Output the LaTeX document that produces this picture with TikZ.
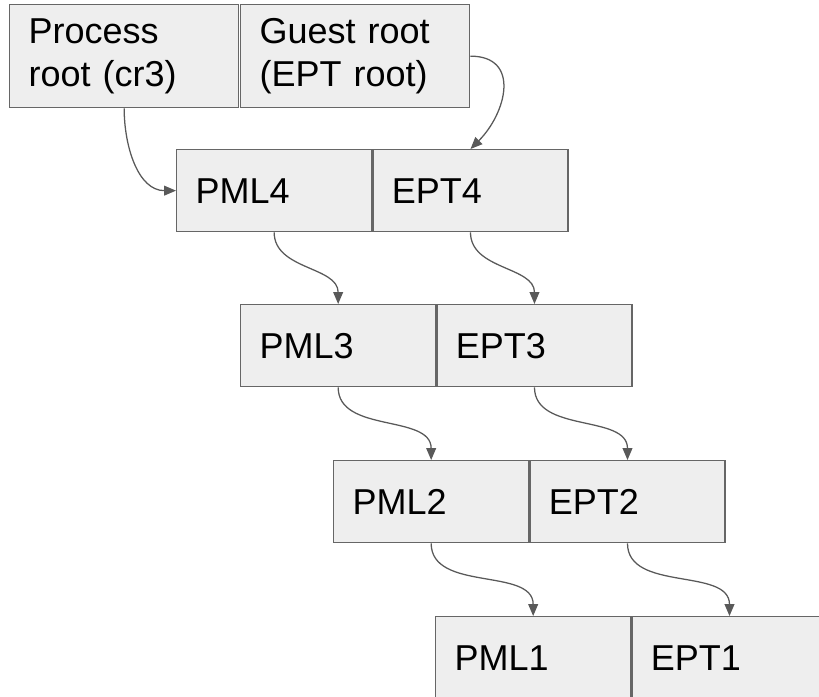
\documentclass[tikz,border=0pt]{standalone}
\usepackage{fontspec}
\setmainfont{Liberation Sans}
\usepackage{xcolor}
\usetikzlibrary{arrows.meta}
\definecolor{boxfill}{HTML}{EEEEEE}
\definecolor{boxline}{HTML}{666666}
\definecolor{ptrline}{HTML}{595959}
\tikzset{
	tbl/.style={draw=boxline, fill=boxfill, line width=0.9pt, anchor=north west,
		minimum height=2.05cm, text width=3.925cm, inner xsep=0.475cm, inner ysep=0pt,
		align=left, font=\fontsize{25.6}{31}\selectfont},
	rootbox/.style={tbl, minimum height=2.575cm, text width=4.775cm},
	ptr/.style={draw=ptrline, line width=0.9pt, -{Triangle[length=8.5pt,width=7pt]}}
}
\begin{document}
\begin{tikzpicture}[x=0.025cm,y=0.025cm]
		\clip (0,0) rectangle (819,-696);
		\node[rootbox] (proc) at (9,-4) {Process\\root (cr3)};
		\node[rootbox] (guest) at (240,-4) {Guest root\\(EPT root)};
		\node[tbl] (pml4) at (176,-149) {PML4};
		\node[tbl] (ept4) at (pml4.north east) {EPT4};
		\node[tbl] (pml3) at (240,-304) {PML3};
		\node[tbl] (ept3) at (pml3.north east) {EPT3};
		\node[tbl] (pml2) at (333,-460) {PML2};
		\node[tbl] (ept2) at (pml2.north east) {EPT2};
		\node[tbl] (pml1) at (435,-616) {PML1};
		\node[tbl] (ept1) at (pml1.north east) {EPT1};
		\draw[ptr] (proc.south) to[out=-90, in=180] (pml4.west);
		\draw[ptr] (guest.east) to[out=0, in=45, looseness=1.4] (ept4.north);
		\foreach \a/\b in {pml4/pml3, ept4/ept3, pml3/pml2, ept3/ept2, pml2/pml1, ept2/ept1}
			\draw[ptr] (\a.south) to[out=-90, in=90] (\b.north);
	\end{tikzpicture}
\end{document}
